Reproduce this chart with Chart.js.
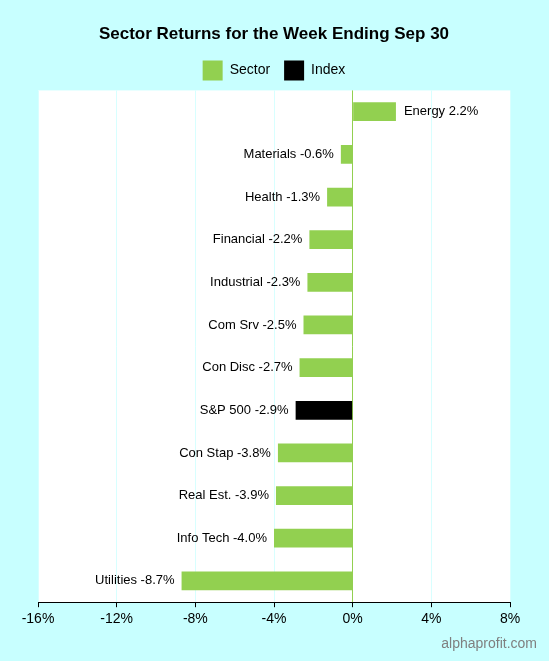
<!DOCTYPE html>
<html>
<head>
<meta charset="utf-8">
<script src="https://cdn.jsdelivr.net/npm/chart.js@4"></script>
<style>
  html, body { margin: 0; padding: 0; background: #c8ffff; }
  #wrap { position: relative; width: 549px; height: 661px; }
  #mark { position: absolute; right: 12px; bottom: 10px; font: 14px "Liberation Sans", Arial, sans-serif; color: #7f7f7f; }
</style>
</head>
<body>
<div id="wrap">
  <canvas id="c" width="549" height="661"></canvas>
  <div id="mark">alphaprofit.com</div>
</div>
<script>
const labels = ["Energy", "Materials", "Health", "Financial", "Industrial", "Com Srv", "Con Disc", "S&P 500", "Con Stap", "Real Est.", "Info Tech", "Utilities"];
const returns = [2.2, -0.6, -1.3, -2.2, -2.3, -2.5, -2.7, -2.9, -3.8, -3.9, -4.0, -8.7];
const xTicks = [-16, -12, -8, -4, 0, 4, 8];
const GREEN = "#92d050";

const colors = labels.map(l => l === "S&P 500" ? "#000000" : GREEN);

const plotBg = {
  id: "plotBg",
  beforeDraw(chart) {
    const { ctx, chartArea: a } = chart;
    ctx.save();
    ctx.fillStyle = "#ffffff";
    ctx.fillRect(a.left, a.top, a.right - a.left, a.bottom - a.top);
    ctx.restore();
  }
};

const barLabels = {
  id: "barLabels",
  afterDatasetsDraw(chart) {
    const ctx = chart.ctx;
    const meta = chart.getDatasetMeta(0);
    ctx.save();
    ctx.font = '13px "Liberation Sans", Arial, sans-serif';
    ctx.fillStyle = "#000";
    ctx.textBaseline = "middle";
    meta.data.forEach((bar, i) => {
      const v = returns[i];
      const txt = labels[i] + " " + v.toFixed(1) + "%";
      if (v >= 0) { ctx.textAlign = "left"; ctx.fillText(txt, bar.x + 8, bar.y); }
      else { ctx.textAlign = "right"; ctx.fillText(txt, bar.x - 7, bar.y); }
    });
    ctx.restore();
  }
};

new Chart(document.getElementById("c"), {
  type: "bar",
  data: {
    labels: labels,
    datasets: [
      { label: "Sector", data: returns, backgroundColor: colors, barPercentage: 0.44, categoryPercentage: 1, grouped: false },
      { label: "Index", data: [], backgroundColor: "#000000", grouped: false }
    ]
  },
  options: {
    indexAxis: "y",
    responsive: false,
    animation: false,
    layout: { padding: { left: 38, right: 39, top: 8, bottom: 29 } },
    scales: {
      x: {
        min: -16, max: 8,
        afterBuildTicks: s => { s.ticks = xTicks.map(v => ({ value: v })); },
        ticks: { color: "#000", font: { size: 14, family: "Liberation Sans" }, callback: v => v + "%", padding: 4 },
        grid: {
          color: ctx => ctx.tick && ctx.tick.value === 0 ? GREEN : "#d8ffff",
          drawTicks: true, tickLength: 5, tickColor: "#000"
        },
        border: { color: "#000" }
      },
      y: { display: false, offset: true, grid: { display: false } }
    },
    plugins: {
      title: {
        display: true, text: "Sector Returns for the Week Ending Sep 30", color: "#000",
        font: { size: 17, weight: "bold", family: "Liberation Sans" }, padding: { top: 16, bottom: 2 }
      },
      legend: {
        labels: {
          color: "#000", font: { size: 14, family: "Liberation Sans" }, boxWidth: 20, boxHeight: 20, padding: 14,
          generateLabels: () => [
            { text: "Sector", fillStyle: GREEN, strokeStyle: GREEN, lineWidth: 0, datasetIndex: 0 },
            { text: "Index", fillStyle: "#000", strokeStyle: "#000", lineWidth: 0, datasetIndex: 1 }
          ]
        },
        onClick: () => {}
      },
      tooltip: { enabled: false }
    }
  },
  plugins: [plotBg, barLabels]
});
</script>
</body>
</html>
